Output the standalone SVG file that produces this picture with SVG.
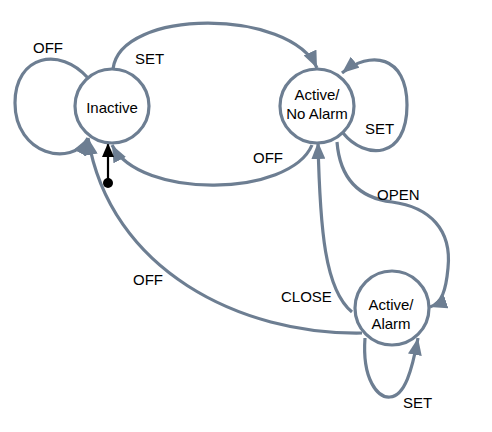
<svg xmlns="http://www.w3.org/2000/svg" width="492" height="432" viewBox="0 0 492 432">
<style>
.node{fill:#fff;stroke:#6d7e92;stroke-width:3.2}
.edge{fill:none;stroke:#6d7e92;stroke-width:3.2;marker-end:url(#ah)}
text{font-family:"Liberation Sans",Arial,sans-serif;font-size:15px;fill:#000}
.c{text-anchor:middle}
</style>
<defs>
<marker id="ah" markerUnits="userSpaceOnUse" markerWidth="18" markerHeight="14" refX="17" refY="7" orient="auto">
<path d="M0,0 L17,7 L0,14 z" fill="#6d7e92"/>
</marker>
<marker id="bh" markerUnits="userSpaceOnUse" markerWidth="15" markerHeight="12" refX="14" refY="6" orient="auto">
<path d="M0,0 L14,6 L0,12 z" fill="#000"/>
</marker>
</defs>
<g id="connectors">
<path class="edge" d="M88,78 C60,46 15,55 15,103 C15,155 72,168 88,138"/>
<path class="edge" d="M113,69 C120,8 290,8 317,68"/>
<path class="edge" d="M312,145 C290,197 140,200 112,145"/>
<path class="edge" d="M343,133 C365,160 407,160 407,105 C407,55 370,50 342,73"/>
<path class="edge" d="M337,142 C340,180 360,198 392,202 C430,207 452,230 448,268 C446,290 442,303 430,307"/>
<path class="edge" d="M352,312 C325,290 320,230 318,142"/>
<path class="edge" d="M362,333 C240,335 110,270 88,138"/>
<path class="edge" d="M365,338 C362,380 378,398 390,397 C405,396 412,370 418,338"/>
<path fill="none" stroke="#000" stroke-width="2.2" marker-end="url(#bh)" d="M108,183 L108,143"/>
<circle cx="108" cy="183" r="5" fill="#000"/>
</g>
<g id="inactive">
<circle class="node" cx="112" cy="106" r="37"/>
<text class="c" x="112" y="113">Inactive</text>
</g>
<g id="active-no-alarm">
<circle class="node" cx="317" cy="106" r="37"/>
<text class="c" x="317" y="100">Active/</text>
<text class="c" x="317" y="119">No Alarm</text>
</g>
<g id="active-alarm">
<circle class="node" cx="392" cy="308" r="37"/>
<text class="c" x="391" y="310">Active/</text>
<text class="c" x="391" y="329">Alarm</text>
</g>
<g id="labels">
<text x="33" y="53">OFF</text>
<text x="135" y="64">SET</text>
<text x="253" y="163">OFF</text>
<text x="365" y="134">SET</text>
<text x="377" y="200">OPEN</text>
<text x="281" y="302">CLOSE</text>
<text x="133" y="285">OFF</text>
<text x="403" y="408">SET</text>
</g>
</svg>
